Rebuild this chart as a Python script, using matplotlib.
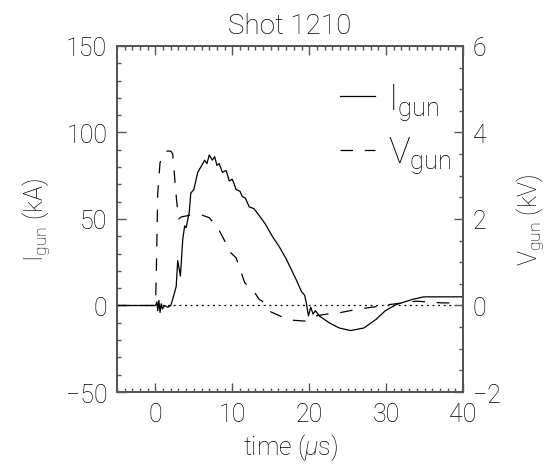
import matplotlib
matplotlib.use('Agg')
import matplotlib.pyplot as plt
from matplotlib.ticker import MultipleLocator

plt.rcParams['font.family'] = ['Roboto', 'DejaVu Sans']
plt.rcParams['font.weight'] = 'light'
plt.rcParams['axes.titleweight'] = 'light'
plt.rcParams['axes.labelweight'] = 'light'
plt.rcParams['mathtext.fontset'] = 'custom'
plt.rcParams['mathtext.rm'] = 'Roboto:light'
plt.rcParams['mathtext.it'] = 'Roboto:italic:light'

# gun current (kA) vs time (us)
t_I = [-5, 0, 0.2, 0.3, 0.45, 0.6, 0.75, 0.9, 1.2, 1.6, 2.0, 2.4, 2.7, 2.9,
       3.25, 3.55, 3.8, 4.0, 4.4, 4.6, 5.0, 5.5, 5.9, 6.4, 6.7, 7.0, 7.4, 7.7,
       8.0, 8.3, 8.7, 9.2, 9.6, 10.0, 10.5, 11.0, 11.3, 11.7, 12.2, 12.8, 13.5,
       14.3, 15.2, 16.1, 17.0, 18.3, 19.0, 19.4, 19.6, 19.9, 20.2, 20.5, 20.8,
       21.3, 22.6, 23.9, 25.4, 27.1, 28.7, 29.9, 31.3, 33.4, 34.9, 40]
I_gun = [0, 0, 2, -3, 3, -4, 1, -2, 0, -1, 0, 6, 11, 26,
         17, 38, 46, 45, 54, 65, 67, 77, 80, 84, 82, 87, 84, 86,
         81, 82, 77, 78, 72, 73, 67, 66, 63, 62, 57, 56, 52,
         47, 40, 34, 27, 15, 8, 6, 2, -6, -1, -5, -3,
         -6, -10, -13, -14.5, -13, -8, -3, 0.5, 3.5, 5, 5]

# gun voltage (kV) vs time (us)
t_V = [-5, 0.0, 0.1, 0.3, 0.6, 1.0, 1.4, 2.0, 2.25, 2.7, 3.0, 3.4, 4.0, 4.8,
       5.9, 7.0, 8.1, 8.7, 9.8, 10.5, 10.9, 11.6, 12.9, 13.5, 13.9, 14.8, 16.3,
       17.8, 19.4, 20.6, 22.2, 23.9, 25.0, 26.9, 28.2, 30.4, 31.7, 33.9, 37.3,
       38.4]
V_gun = [0, 0, 0.6, 2.6, 3.3, 3.5, 3.57, 3.57, 3.5, 2.53, 2.0, 2.05, 2.07, 2.1,
         2.1, 2.03, 1.8, 1.6, 1.22, 1.1, 0.9, 0.53, 0.3, 0.14, 0.1, -0.13, -0.25,
         -0.34, -0.36, -0.25, -0.2, -0.17, -0.13, -0.07, -0.04, 0.02, 0.05, 0.1, 0.06,
         0.06]

fig = plt.figure(figsize=(5.51, 4.77), dpi=100)
ax = fig.add_axes([0.2123, 0.1761, 0.628, 0.7254])
ax2 = ax.twinx()

ax.axhline(0, color='black', lw=0.9, dashes=(1.5, 3.0))
l1, = ax.plot(t_I, I_gun, color='black', lw=0.9, label='I$_{\\mathrm{gun}}$')
l2, = ax2.plot(t_V, V_gun, color='black', lw=0.9, dashes=(10, 9.5),
               label='V$_{\\mathrm{gun}}$')

ax.set_xlim(-5, 40)
ax.set_ylim(-50, 150)
ax2.set_ylim(-2, 6)

txt = 'black'
ax.set_title('Shot 1210', fontsize=20, color=txt, pad=9)
ax.set_xlabel('time ($\\mu$s)', fontsize=18, color=txt, labelpad=4)
ax.set_ylabel('I$_{\\mathrm{gun}}$ (kA)', fontsize=18, color=txt, labelpad=10)
ax2.set_ylabel('V$_{\\mathrm{gun}}$ (kV)', fontsize=18, color=txt, labelpad=10)

ax.xaxis.set_major_locator(MultipleLocator(10))
ax.xaxis.set_minor_locator(MultipleLocator(1))
ax.yaxis.set_major_locator(MultipleLocator(50))
ax.yaxis.set_minor_locator(MultipleLocator(10))
ax2.yaxis.set_major_locator(MultipleLocator(2))
ax2.yaxis.set_minor_locator(MultipleLocator(0.5))

for a in (ax, ax2):
    for s in a.spines.values():
        s.set_color('#555555')
        s.set_linewidth(1.4)
    a.tick_params(which='major', direction='in', length=6.5, width=1,
                  color='#555555', labelsize=18, labelcolor=txt, pad=7)
    a.tick_params(which='minor', direction='in', length=3, width=1,
                  color='#555555')
ax.tick_params(which='both', top=True, right=False)
ax2.tick_params(which='both', right=True, left=False, top=False)

leg = ax.legend([l1, l2], [l1.get_label(), l2.get_label()], loc='upper right',
                bbox_to_anchor=(0.965, 0.9), borderaxespad=0, borderpad=0,
                frameon=False, fontsize=26, handlelength=0.95,
                handletextpad=0.36, labelspacing=0.35)
for t in leg.get_texts():
    t.set_color(txt)

fig.savefig('out.png', dpi=100)
